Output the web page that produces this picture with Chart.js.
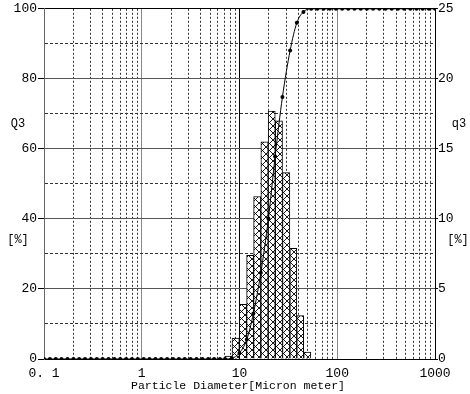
<!DOCTYPE html>
<html>
<head>
<meta charset="utf-8">
<script src="https://cdn.jsdelivr.net/npm/chart.js@4/dist/chart.umd.min.js"></script>
<style>
  body { margin: 0; background: #fff; }
  canvas { display: block; }
</style>
</head>
<body>
<canvas id="chart" width="470" height="394"></canvas>
<script>
// particle diameters [um] where Q3 was measured
const diameters = [
  0.1, 0.115, 0.132, 0.151, 0.174, 0.2, 0.229, 0.263, 0.302, 0.347, 0.398,
  0.457, 0.525, 0.603, 0.692, 0.794, 0.912, 1.047, 1.2, 1.38, 1.58, 1.82,
  2.09, 2.4, 2.75, 3.16, 3.63, 4.17, 4.79, 5.5, 6.31,
  7.12, 8.34, 9.98, 11.88, 13.88, 16.52, 19.76, 23.14, 27.49, 32.96, 38.6, 45.09, 54.07,
  62.6, 72.4, 83.8, 97.0, 112.2, 129.8, 150.2, 173.9, 201.2, 232.8, 269.4,
  311.7, 360.7, 417.4, 483.1, 559, 647, 748, 866, 1000
];
// Q3 cumulative [%]
const cumulative = [
  0, 0, 0, 0, 0, 0, 0, 0, 0, 0, 0,
  0, 0, 0, 0, 0, 0, 0, 0, 0, 0, 0,
  0, 0, 0, 0, 0, 0, 0, 0, 0,
  0, 0.2, 1.7, 5.6, 13.0, 24.6, 40.1, 57.8, 74.8, 88.1, 96.0, 99.1, 100,
  100, 100, 100, 100, 100, 100, 100, 100, 100, 100, 100,
  100, 100, 100, 100, 100, 100, 100, 100, 100
];
// q3 histogram: bin edges [um] and frequency [%]
const binEdges = [7.12, 8.34, 9.98, 11.88, 13.88, 16.52, 19.76, 23.14, 27.49, 32.96, 38.6, 45.09, 54.07];
const binValues = [0.2, 1.5, 3.9, 7.4, 11.6, 15.5, 17.7, 17.0, 13.3, 7.9, 3.1, 0.5];

const xTickValues = [0.1, 1, 10, 100, 1000];
const xTickLabels = ["0. 1", "1", "10", "100", "1000"];

const FONT = '"Liberation Mono", "DejaVu Sans Mono", monospace';

// cross hatch fill for the bars
let hatch = null;
function getHatch(ctx) {
  if (hatch) return hatch;
  const c = document.createElement("canvas");
  c.width = 7; c.height = 7;
  const g = c.getContext("2d");
  g.fillStyle = "#fff";
  g.fillRect(0, 0, 7, 7);
  g.strokeStyle = "#000";
  g.lineWidth = 0.9;
  g.beginPath();
  g.moveTo(0, 0); g.lineTo(7, 7);
  g.moveTo(7, 0); g.lineTo(0, 7);
  g.stroke();
  hatch = ctx.createPattern(c, "repeat");
  return hatch;
}

const cumData = diameters.map((d, i) => ({ x: d, y: cumulative[i] }));
// each bar sits at the geometric middle of its bin, flex width fills the bin
const histData = binValues.map((v, i) => ({ x: Math.sqrt(binEdges[i] * binEdges[i + 1]), y: v }));

const sideText = {
  id: "sideText",
  afterDraw(chart) {
    const ctx = chart.ctx;
    ctx.save();
    ctx.fillStyle = "#000";
    ctx.textAlign = "center";
    ctx.textBaseline = "middle";
    ctx.font = "12px " + FONT;
    ctx.fillText("Q3", 18, 124);
    ctx.fillText("[%]", 18, 240);
    ctx.fillText("q3", 459, 124);
    ctx.fillText("[%]", 458, 240);
    ctx.font = "11.5px " + FONT;
    ctx.fillText("Particle Diameter[Micron meter]", 238, 386);
    ctx.restore();
  }
};

new Chart(document.getElementById("chart"), {
  type: "line",
  data: {
    datasets: [
      {
        label: "Q3",
        data: cumData,
        yAxisID: "y",
        borderColor: "#000",
        borderWidth: 1,
        pointRadius: 2,
        pointBackgroundColor: "#000",
        pointBorderWidth: 0,
        cubicInterpolationMode: "monotone",
        fill: false
      },
      {
        type: "bar",
        label: "q3",
        data: histData,
        yAxisID: "y2",
        borderColor: "#000",
        borderWidth: 1,
        backgroundColor: c => getHatch(c.chart.ctx),
        barThickness: "flex",
        categoryPercentage: 1,
        barPercentage: 1
      }
    ]
  },
  options: {
    responsive: false,
    animation: false,
    layout: { padding: { top: 6 } },
    plugins: { legend: { display: false }, tooltip: { enabled: false } },
    scales: {
      x: {
        type: "logarithmic",
        min: 0.1,
        max: 1000,
        offset: false,
        afterBuildTicks(scale) {
          const t = [];
          for (let i = 0; i < xTickValues.length - 1; i++) {
            for (let m = 1; m <= 9; m++) t.push({ value: xTickValues[i] * m });
          }
          t.push({ value: 1000 });
          scale.ticks = t;
        },
        afterFit(scale) { scale.height = 35; },
        ticks: {
          autoSkip: false,
          maxRotation: 0,
          padding: 4,
          color: "#000",
          font: { family: FONT, size: 13 },
          callback(v) {
            const k = xTickValues.findIndex(t => Math.abs(t - v) < v * 1e-6);
            return k >= 0 ? xTickLabels[k] : "";
          }
        },
        grid: {
          offset: false,
          tickLength: 3,
          tickColor: "rgba(0,0,0,0)",
          color(c) {
            if (!c.tick) return "#000";
            const v = c.tick.value;
            if (Math.abs(v - 10) < 1e-6) return "#000";
            if (xTickValues.some(t => Math.abs(t - v) < v * 1e-6)) return "#888";
            return "#333";
          }
        },
        border: {
          color: "#000",
          dash(c) {
            if (!c.tick) return [];
            const v = c.tick.value;
            return xTickValues.some(t => Math.abs(t - v) < v * 1e-6) ? [] : [2, 2];
          }
        }
      },
      y: {
        position: "left",
        min: 0,
        max: 100,
        afterFit(scale) { scale.width = 44; },
        ticks: {
          stepSize: 10,
          padding: 1,
          color: "#000",
          font: { family: FONT, size: 13 },
          callback(v) { return v % 20 === 0 ? String(v) : ""; }
        },
        grid: {
          tickLength: 6,
          tickColor(c) { return c.tick && c.tick.value % 20 === 0 ? "#000" : "rgba(0,0,0,0)"; },
          color(c) {
            if (!c.tick) return "#000";
            const v = c.tick.value;
            if (v === 100) return "#000";
            return v % 20 === 0 ? "#555" : "#333";
          }
        },
        border: {
          color: "#666",
          dash(c) {
            if (!c.tick) return [];
            return c.tick.value % 20 === 0 ? [] : [3, 2];
          }
        }
      },
      y2: {
        position: "right",
        min: 0,
        max: 25,
        afterFit(scale) { scale.width = 35; },
        ticks: {
          stepSize: 5,
          padding: 0,
          color: "#000",
          font: { family: FONT, size: 13 }
        },
        grid: {
          drawOnChartArea: false,
          tickLength: 3,
          tickColor: "#000"
        },
        border: { color: "#000" }
      }
    }
  },
  plugins: [sideText]
});
</script>
</body>
</html>
